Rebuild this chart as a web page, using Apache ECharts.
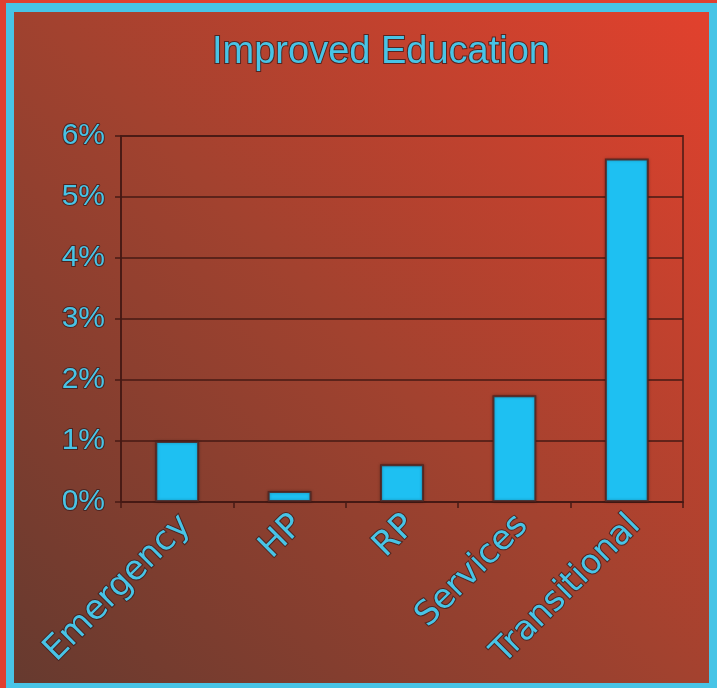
<!DOCTYPE html>
<html>
<head>
<meta charset="utf-8">
<script src="https://cdn.jsdelivr.net/npm/echarts@6/dist/echarts.min.js"></script>
<style>
html,body{margin:0;padding:0;background:#e04030;}
#chart{width:717px;height:688px;}
</style>
</head>
<body>
<div id="chart"></div>
<script>
const categories = ['Emergency', 'HP', 'RP', 'Services', 'Transitional'];
const values = [1.0, 0.18, 0.62, 1.75, 5.63];
const yTicks = [0, 1, 2, 3, 4, 5, 6];
const titleText = 'Improved Education';

const cyan = '#48c4e6';
const dark = 'rgba(70,25,20,0.75)';

const chart = echarts.init(document.getElementById('chart'), null, {renderer: 'canvas'});
chart.setOption({
  animation: false,
  graphic: [
    {type: 'rect', z: -10, silent: true, shape: {x: 0, y: 0, width: 717, height: 688}, style: {fill: cyan}},
    {type: 'rect', z: -10, silent: true, shape: {x: 0, y: 0, width: 6, height: 688}, style: {fill: '#e04030'}},
    {type: 'rect', z: -10, silent: true, shape: {x: 0, y: 0, width: 717, height: 3}, style: {fill: '#e04030'}},
    {type: 'rect', z: -9, silent: true, shape: {x: 14, y: 12, width: 695, height: 671},
      style: {fill: new echarts.graphic.LinearGradient(0, 1, 1, 0, [
        {offset: 0, color: '#663a2f'},
        {offset: 0.5, color: '#a2422f'},
        {offset: 1, color: '#e2412d'}
      ])}}
  ],
  title: {
    text: titleText,
    left: 376,
    top: 29,
    textAlign: 'center',
    textStyle: {
      color: cyan,
      fontFamily: 'Liberation Sans, Arial, sans-serif',
      fontWeight: 'normal',
      fontSize: 38,
      textBorderColor: 'rgba(60,30,30,0.8)',
      textBorderWidth: 2
    }
  },
  grid: {
    left: 121, right: 34, top: 136, bottom: 186,
    show: true, borderColor: dark, borderWidth: 2, backgroundColor: 'transparent'
  },
  xAxis: {
    type: 'category',
    data: categories,
    axisLine: {lineStyle: {color: dark, width: 2}},
    axisTick: {show: true, length: 6, lineStyle: {color: dark, width: 2}},
    axisLabel: {
      rotate: 45,
      margin: 10,
      verticalAlign: 'top',
      lineHeight: 24,
      color: cyan,
      fontFamily: 'DejaVu Sans, Verdana, sans-serif',
      fontSize: 34,
      textBorderColor: 'rgba(60,30,30,0.8)',
      textBorderWidth: 2
    }
  },
  yAxis: {
    type: 'value',
    min: yTicks[0],
    max: yTicks[yTicks.length - 1],
    interval: 1,
    axisLine: {show: true, lineStyle: {color: dark, width: 2}},
    axisTick: {show: true, length: 6, lineStyle: {color: dark, width: 2}},
    splitLine: {lineStyle: {color: dark, width: 2}},
    axisLabel: {
      margin: 16,
      color: cyan,
      fontFamily: 'Liberation Sans, Arial, sans-serif',
      fontSize: 30,
      formatter: v => v + '%',
      textBorderColor: 'rgba(60,30,30,0.8)',
      textBorderWidth: 2
    }
  },
  series: [{
    type: 'bar',
    data: values,
    barWidth: '39%',
    itemStyle: {
      color: '#1ec0f2',
      borderColor: 'rgba(80,35,30,0.85)',
      borderWidth: 2,
      shadowColor: 'rgba(0,0,0,0.3)',
      shadowBlur: 3
    }
  }]
});
</script>
</body>
</html>
